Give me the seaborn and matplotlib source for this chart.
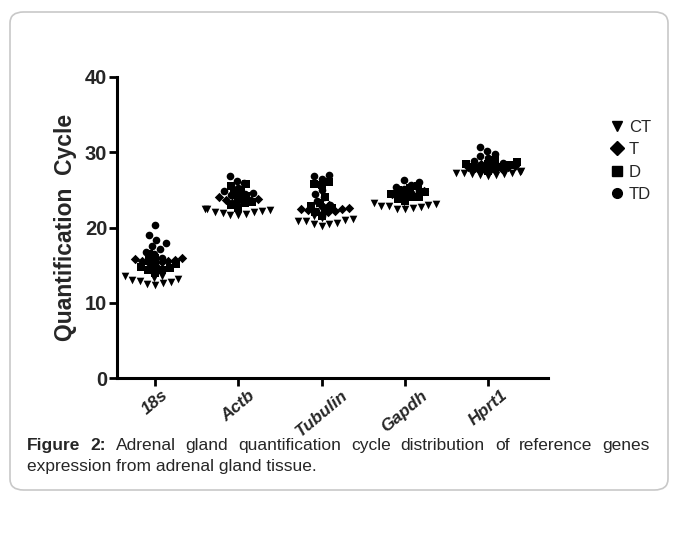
import pandas as pd
import matplotlib.pyplot as plt
import seaborn as sns
from matplotlib.lines import Line2D
from matplotlib.patches import FancyBboxPatch

# Cq values (approximate)
genes = ["18s", "Actb", "Tubulin", "Gapdh", "Hprt1"]
groups = ["CT", "T", "D", "TD"]

ct_vals = {
    "18s": [12.3, 12.5, 12.7, 12.9, 13.0, 13.2, 13.3, 13.5, 13.6, 12.6],
    "Actb": [21.6, 21.8, 22.0, 22.1, 22.3, 22.4, 22.5, 21.9, 22.2, 21.7],
    "Tubulin": [20.2, 20.4, 20.6, 20.8, 21.0, 21.1, 21.3, 20.5, 20.9, 21.5],
    "Gapdh": [22.4, 22.6, 22.8, 23.0, 23.1, 23.3, 22.7, 22.9, 23.4, 22.5],
    "Hprt1": [26.9, 27.0, 27.1, 27.2, 27.3, 27.4, 27.0, 27.2, 27.5, 27.1],
}
t_vals = {
    "18s": [15.0, 15.3, 15.5, 15.6, 15.8, 16.0, 15.4, 15.7, 15.9, 16.2],
    "Actb": [23.0, 23.3, 23.5, 23.7, 23.9, 24.1, 24.3, 23.6, 23.8, 24.5],
    "Tubulin": [21.8, 22.0, 22.2, 22.4, 22.6, 22.8, 23.0, 22.3, 22.5, 22.1],
    "Gapdh": [23.8, 24.0, 24.3, 24.5, 24.7, 25.0, 25.2, 24.4, 24.8, 25.4],
    "Hprt1": [27.4, 27.6, 27.8, 28.0, 28.1, 28.3, 27.7, 27.9, 28.2, 28.5],
}
d_vals = {
    "18s": [14.0, 14.3, 14.6, 14.8, 15.0, 15.2, 15.5, 16.0, 16.5, 14.4],
    "Actb": [22.6, 23.0, 23.4, 23.8, 24.2, 24.6, 25.0, 25.5, 25.8, 23.2],
    "Tubulin": [21.5, 22.0, 22.4, 22.8, 23.2, 24.0, 25.6, 25.8, 26.0, 22.6],
    "Gapdh": [23.5, 23.8, 24.1, 24.4, 24.7, 25.0, 25.3, 25.5, 24.0, 24.6],
    "Hprt1": [27.5, 27.8, 28.0, 28.3, 28.5, 28.7, 29.0, 28.1, 28.4, 27.9],
}
td_vals = {
    "18s": [15.5, 16.0, 16.5, 16.8, 17.2, 17.5, 17.9, 18.4, 19.0, 20.3, 15.8],
    "Actb": [24.0, 24.3, 24.6, 24.9, 25.2, 25.5, 25.9, 26.2, 26.8, 24.5],
    "Tubulin": [21.5, 22.2, 22.8, 23.5, 24.0, 24.5, 25.0, 26.5, 26.8, 27.0, 23.0],
    "Gapdh": [24.0, 24.4, 24.8, 25.1, 25.4, 25.7, 26.0, 26.3, 24.6],
    "Hprt1": [28.0, 28.3, 28.6, 28.9, 29.2, 29.5, 29.8, 30.2, 30.7, 28.5],
}
group_vals = {"CT": ct_vals, "T": t_vals, "D": d_vals, "TD": td_vals}
markers = {"CT": "v", "T": "D", "D": "s", "TD": "o"}
msizes = {"CT": 5.5, "T": 4.8, "D": 5.3, "TD": 5.5}

caption1 = "Figure 2: Adrenal gland quantification cycle distribution of reference genes"
caption2 = "expression from adrenal gland tissue."

rows = []
for g in groups:
    for gene in genes:
        for v in group_vals[g][gene]:
            rows.append({"group": g, "gene": gene, "cq": v})
df = pd.DataFrame(rows)

sns.set_style("ticks")
plt.rcParams["font.family"] = ["Liberation Sans", "DejaVu Sans"]

fig = plt.figure(figsize=(6.76, 5.54), dpi=100)
ax = fig.add_axes([117 / 676, 1 - 378 / 554, (548 - 117) / 676, (378 - 77) / 554])

for g in groups:
    sns.swarmplot(data=df[df["group"] == g], x="gene", y="cq", order=genes,
                  marker=markers[g], color="black", size=msizes[g], ax=ax)

ax.set_ylim(0, 40)
ax.set_xlim(-0.46, 4.72)
ax.set_yticks([0, 10, 20, 30, 40])
ax.set_xlabel("")
ax.set_ylabel("Quantification  Cycle", fontsize=16.5, fontweight="bold", labelpad=6)
ax.tick_params(axis="both", width=2, length=6, color="black")
ax.tick_params(axis="y", pad=1)
ax.tick_params(axis="x", pad=1)
for lab in ax.get_yticklabels():
    lab.set_fontsize(14.5)
    lab.set_fontweight("bold")
ax.set_xticks(range(len(genes)))
ax.set_xticklabels(genes, rotation=40, ha="center", va="top",
                   fontsize=12.5, fontweight="bold", fontstyle="italic")
for side in ["top", "right"]:
    ax.spines[side].set_visible(False)
for side in ["left", "bottom"]:
    ax.spines[side].set_linewidth(2.2)
    ax.spines[side].set_color("black")

handles = [Line2D([], [], linestyle="none", marker=markers[g], color="black", markersize=7)
           for g in groups]
ax.legend(handles, groups, loc="upper left", bbox_to_anchor=(602 / 676, 1 - 113 / 554),
          bbox_transform=fig.transFigure, frameon=False, fontsize=12,
          handletextpad=0.2, labelspacing=0.45, handlelength=1.0, borderaxespad=0)

# rounded frame around the figure panel
box = FancyBboxPatch((10 / 676, 1 - 490 / 554), 658 / 676, 478 / 554,
                     boxstyle="round,pad=0,rounding_size=0.02", transform=fig.transFigure,
                     facecolor="none", edgecolor="#c8c8c8", linewidth=1.2)
fig.patches.append(box)

# caption, first line justified between 27 px and 650 px
renderer = fig.canvas.get_renderer()
words = caption1.split(" ")
texts = []
for i, w in enumerate(words):
    weight = "bold" if i < 2 else "normal"
    texts.append(fig.text(0, 1 - 450 / 554, w, fontsize=12.5, fontweight=weight, va="baseline"))
widths = [t.get_window_extent(renderer).width for t in texts]
gap = (650 - 27 - sum(widths)) / (len(words) - 1)
x = 27.0
for t, wdt in zip(texts, widths):
    t.set_x(x / 676)
    x += wdt + gap
fig.text(27 / 676, 1 - 471 / 554, caption2, fontsize=12.5, va="baseline")

fig.savefig("out.png", dpi=100)
